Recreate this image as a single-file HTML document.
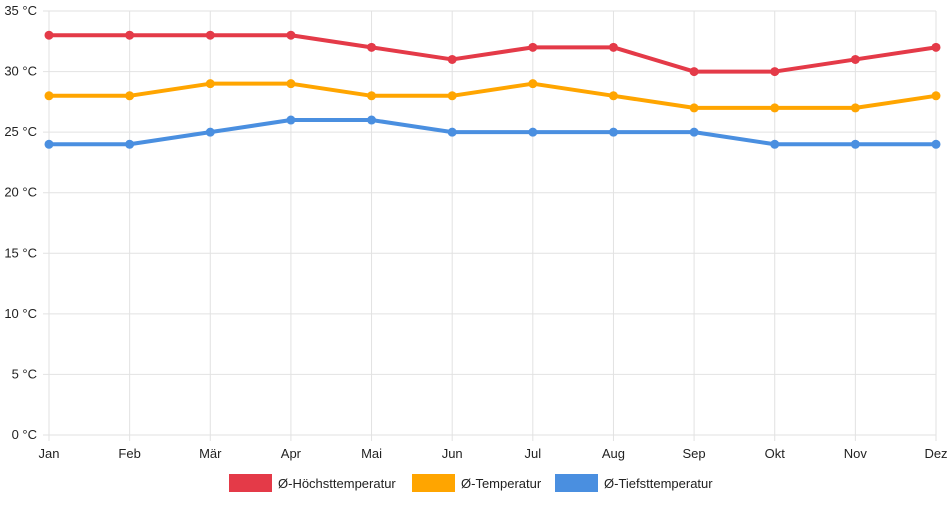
<!DOCTYPE html>
<html><head><meta charset="utf-8"><style>
html,body{margin:0;padding:0;background:#fff;}
svg text{font-family:"Liberation Sans",sans-serif;font-size:13px;fill:#222;}
</style></head><body>
<svg id="chart" width="952" height="500" xmlns="http://www.w3.org/2000/svg"></svg>
<script>
const categories=["Jan","Feb","Mär","Apr","Mai","Jun","Jul","Aug","Sep","Okt","Nov","Dez"];
const highTemps=[33,33,33,33,32,31,32,32,30,30,31,32];
const avgTemps=[28,28,29,29,28,28,29,28,27,27,27,28];
const lowTemps=[24,24,25,26,26,25,25,25,25,24,24,24];
const yTicks=[0,5,10,15,20,25,30,35];
const seriesNames=["Ø-Höchsttemperatur","Ø-Temperatur","Ø-Tiefsttemperatur"];
const svg=document.getElementById('chart');
const NS='http://www.w3.org/2000/svg';
const X0=49,X1=936,Y0=435,Y1=11,YMAX=35;
function xs(i){return X0+(X1-X0)*i/(categories.length-1);}
function ys(v){return Y0-(Y0-Y1)*v/YMAX;}
function mk(t,a){const e=document.createElementNS(NS,t);for(const k in a)e.setAttribute(k,a[k]);svg.appendChild(e);return e;}
yTicks.forEach(v=>{
  const l=mk('line',{x1:X0-6,x2:X1,y1:ys(v),y2:ys(v),stroke:'#e2e2e2','stroke-width':1});
  
  
  const t=mk('text',{x:37,y:ys(v)+4,'text-anchor':'end'});t.textContent=v+' °C';
  
  
});
categories.forEach((c,i)=>{
  const l=mk('line',{x1:xs(i),x2:xs(i),y1:Y1,y2:Y0+6,stroke:'#e2e2e2','stroke-width':1});
  
  
  const t=mk('text',{x:xs(i),y:458,'text-anchor':'middle'});t.textContent=c;
  
  
});
const series=[[highTemps,'#e43a48'],[avgTemps,'#ffa500'],[lowTemps,'#4a8fe0']];
series.forEach(([d,c],si)=>{
  const p=mk('polyline',{points:d.map((v,i)=>xs(i)+','+ys(v)).join(' '),fill:'none',stroke:c,'stroke-width':4,'stroke-linejoin':'round'});
  
  
  d.forEach((v,i)=>{
    const pt=mk('circle',{cx:xs(i),cy:ys(v),r:4.5,fill:c});
    
    
  });
});
const lx=[229,412,555];
series.forEach(([d,c],si)=>{
  const r=mk('rect',{x:lx[si],y:474,width:43,height:18,fill:c});
  
  
  const t=mk('text',{x:lx[si]+49,y:488});t.textContent=seriesNames[si];
  
  
});
</script>
</body></html>
